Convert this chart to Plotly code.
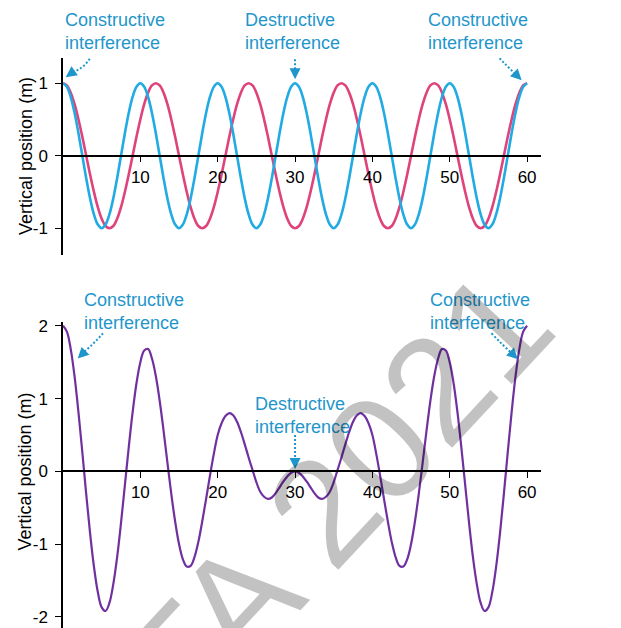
import plotly.graph_objects as go

# Sample times (s), every half second from 0 to 60
time_s = [i * 0.5 for i in range(121)]

# Wave A (blue, 10 s period) vertical position (m)
wave_blue = [
    1, .95, .81, .59, .31, 0, -.31, -.59, -.81, -.95, -1, -.95, -.81, -.59, -.31, 0, .31, .59, .81, .95,
    1, .95, .81, .59, .31, 0, -.31, -.59, -.81, -.95, -1, -.95, -.81, -.59, -.31, 0, .31, .59, .81, .95,
    1, .95, .81, .59, .31, 0, -.31, -.59, -.81, -.95, -1, -.95, -.81, -.59, -.31, 0, .31, .59, .81, .95,
    1, .95, .81, .59, .31, 0, -.31, -.59, -.81, -.95, -1, -.95, -.81, -.59, -.31, 0, .31, .59, .81, .95,
    1, .95, .81, .59, .31, 0, -.31, -.59, -.81, -.95, -1, -.95, -.81, -.59, -.31, 0, .31, .59, .81, .95,
    1, .95, .81, .59, .31, 0, -.31, -.59, -.81, -.95, -1, -.95, -.81, -.59, -.31, 0, .31, .59, .81, .95,
    1,
]

# Wave B (pink, 12 s period) vertical position (m)
wave_pink = [
    1, .97, .87, .71, .5, .26, 0, -.26, -.5, -.71, -.87, -.97, -1, -.97, -.87, -.71, -.5, -.26, 0, .26, .5, .71, .87, .97,
    1, .97, .87, .71, .5, .26, 0, -.26, -.5, -.71, -.87, -.97, -1, -.97, -.87, -.71, -.5, -.26, 0, .26, .5, .71, .87, .97,
    1, .97, .87, .71, .5, .26, 0, -.26, -.5, -.71, -.87, -.97, -1, -.97, -.87, -.71, -.5, -.26, 0, .26, .5, .71, .87, .97,
    1, .97, .87, .71, .5, .26, 0, -.26, -.5, -.71, -.87, -.97, -1, -.97, -.87, -.71, -.5, -.26, 0, .26, .5, .71, .87, .97,
    1, .97, .87, .71, .5, .26, 0, -.26, -.5, -.71, -.87, -.97, -1, -.97, -.87, -.71, -.5, -.26, 0, .26, .5, .71, .87, .97,
    1,
]

# Resultant wave (purple) vertical position (m)
wave_sum = [
    2.0, 1.92, 1.68, 1.30, 0.81, 0.26, -0.31, -0.85, -1.31, -1.66,
    -1.87, -1.92, -1.81, -1.55, -1.18, -0.71, -0.19, 0.33, 0.81, 1.21,
    1.50, 1.66, 1.68, 1.55, 1.31, 0.97, 0.56, 0.12, -0.31, -0.69,
    -1.00, -1.21, -1.31, -1.30, -1.18, -0.97, -0.69, -0.38, -0.06, 0.24,
    0.50, 0.66, 0.76, 0.80, 0.77, 0.68, 0.54, 0.37, 0.19, 0.02,
    -0.15, -0.28, -0.35, -0.38, -0.36, -0.30, -0.22, -0.14, -0.07, -0.02, 0.0,
    -0.02, -0.07, -0.14, -0.22, -0.30, -0.36, -0.38, -0.35, -0.28, -0.15,
    0.02, 0.19, 0.37, 0.54, 0.68, 0.77, 0.80, 0.76, 0.66, 0.50,
    0.24, -0.06, -0.38, -0.69, -0.97, -1.18, -1.30, -1.31, -1.21, -1.00,
    -0.69, -0.31, 0.12, 0.56, 0.97, 1.31, 1.55, 1.68, 1.66, 1.50,
    1.21, 0.81, 0.33, -0.19, -0.71, -1.18, -1.55, -1.81, -1.92, -1.87,
    -1.66, -1.31, -0.85, -0.31, 0.26, 0.81, 1.30, 1.68, 1.92, 2.0,
]

x_ticks = [10, 20, 30, 40, 50, 60]
y_ticks_top = [-1, 0, 1]
y_ticks_bottom = [-2, -1, 0, 1, 2]

BLUE = "#22abe2"
PINK = "#df437b"
PURPLE = "#7030a0"
NOTE = "#1f96cb"
FONT = "Arial, Liberation Sans, sans-serif"

x_range = [0, 61.8]
top_dom, top_rng = [0.6544, 1.0], [-1.37, 1.348]
bot_dom, bot_rng = [0.0, 0.5368], [-2.154, 2.052]


def zero_position(dom, rng):
    return dom[0] + (0 - rng[0]) / (rng[1] - rng[0]) * (dom[1] - dom[0])


fig = go.Figure()
fig.add_trace(go.Scatter(x=time_s, y=wave_pink, mode="lines", line=dict(color=PINK, width=2.6, shape="spline"),
                         xaxis="x", yaxis="y", hoverinfo="skip"))
fig.add_trace(go.Scatter(x=time_s, y=wave_blue, mode="lines", line=dict(color=BLUE, width=2.6, shape="spline"),
                         xaxis="x", yaxis="y", hoverinfo="skip"))
fig.add_trace(go.Scatter(x=time_s, y=wave_sum, mode="lines", line=dict(color=PURPLE, width=2.2, shape="spline"),
                         xaxis="x2", yaxis="y2", hoverinfo="skip"))

axis_common = dict(showgrid=False, zeroline=False, showline=True, linecolor="black", linewidth=1.5,
                   ticks="outside", tickcolor="black", tickwidth=1.2,
                   tickfont=dict(family=FONT, size=17, color="black"))

fig.update_layout(
    width=621, height=628,
    margin=dict(l=63, r=80, t=58, b=0),
    paper_bgcolor="white", plot_bgcolor="white",
    showlegend=False,
    xaxis=dict(domain=[0, 1], range=x_range, anchor="free", position=zero_position(top_dom, top_rng),
               tickvals=x_ticks, ticklen=6, **axis_common),
    yaxis=dict(domain=top_dom, range=top_rng, anchor="x", tickvals=y_ticks_top,
               ticktext=[str(v) for v in y_ticks_top], ticklen=6, ticklabelstandoff=4, **axis_common),
    xaxis2=dict(domain=[0, 1], range=x_range, anchor="free", position=zero_position(bot_dom, bot_rng),
                tickvals=x_ticks, ticklen=6, **axis_common),
    yaxis2=dict(domain=bot_dom, range=bot_rng, anchor="x2", tickvals=y_ticks_bottom,
                ticktext=[str(v) for v in y_ticks_bottom], ticklen=6, ticklabelstandoff=4, **axis_common),
)

annotations = []
shapes = []


def note(text, x, y):
    annotations.append(dict(text=text, x=x, y=y, xref="paper", yref="paper", xanchor="left", yanchor="top",
                            showarrow=False, align="left", font=dict(family=FONT, size=18, color=NOTE)))


def dotted_arrow(path, tip, tail_offset, xref, yref):
    shapes.append(dict(type="path", path=path, xref=xref, yref=yref,
                       line=dict(color=NOTE, width=2, dash="2px,2px")))
    annotations.append(dict(text="", x=tip[0], y=tip[1], xref=xref, yref=yref, showarrow=True,
                            ax=tail_offset[0], ay=tail_offset[1], arrowhead=2, arrowsize=1.1,
                            arrowwidth=2, arrowcolor=NOTE))


# Top panel notes
note("Constructive<br>interference", 0.0, 1.0877)
note("Destructive<br>interference", 0.3766, 1.0877)
note("Constructive<br>interference", 0.7594, 1.0877)
dotted_arrow("M 3.71,1.386 Q 2.94,1.214 1.0,1.138", (0.35, 1.083), (7, -5), "x", "y")
dotted_arrow("M 30,1.386 L 30,1.16", (30, 1.055), (0, -8), "x", "y")
dotted_arrow("M 56.08,1.386 Q 57.4,1.234 58.54,1.124", (59.3, 1.041), (-6, -6), "x", "y")

# Bottom panel notes
note("Constructive<br>interference", 0.0397, 0.5965)
note("Destructive<br>interference", 0.3975, 0.414)
note("Constructive<br>interference", 0.7636, 0.5965)
dotted_arrow("M 5.17,1.897 Q 3.97,1.75 2.55,1.626", (1.9, 1.55), (6, -6), "x2", "y2")
dotted_arrow("M 30,0.499 L 30,0.128", (30, 0.03), (0, -8), "x2", "y2")
dotted_arrow("M 55.4,1.897 Q 56.99,1.72 58.15,1.61", (58.8, 1.54), (-6, -6), "x2", "y2")

# Axis titles
for yref in ("y", "y2"):
    annotations.append(dict(text="Vertical position (m)", x=-0.079, y=0, xref="paper", yref=yref,
                            xanchor="center", yanchor="middle", textangle=-90, showarrow=False,
                            font=dict(family=FONT, size=18, color="black")))
for xref, yref in (("x", "y"), ("x2", "y2")):
    annotations.append(dict(text="time (s)", x=62.55, y=0, xref=xref, yref=yref,
                            xanchor="left", yanchor="middle", showarrow=False,
                            font=dict(family=FONT, size=18, color="black")))

# Watermark
annotations.append(dict(text="TA 2021", x=0.571, y=0.232, xref="paper", yref="paper",
                        xanchor="center", yanchor="middle", textangle=-47, showarrow=False,
                        font=dict(family=FONT, size=150, color="rgba(0,0,0,0.24)")))

fig.update_layout(annotations=annotations, shapes=shapes)
fig.write_html("out.html")
